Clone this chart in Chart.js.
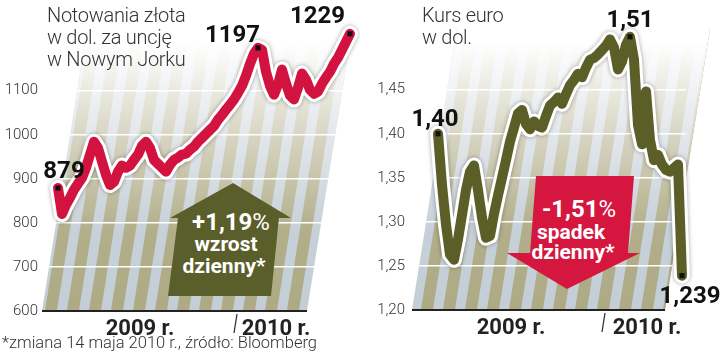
<!DOCTYPE html>
<html lang="pl">
<head>
  <meta charset="UTF-8">
  <title>Złoto i kurs euro</title>
  <script src="https://cdn.jsdelivr.net/npm/chart.js"></script>
  <style>
    body {
      margin: 0;
      width: 720px;
      height: 360px;
      position: relative;
      overflow: hidden;
      background: #fff;
      font-family: 'Roboto', 'Open Sans', sans-serif;
      color: #333;
    }
    canvas { position: absolute; top: 0; }
    .title {
      position: absolute;
      top: 4px;
      font-size: 20px;
      font-weight: 300;
      line-height: 22px;
      letter-spacing: -0.3px;
      color: #333;
      z-index: 2;
    }
    .note {
      position: absolute;
      left: 2px;
      top: 335px;
      font-size: 16.5px;
      font-weight: 300;
      line-height: 16px;
      color: #333;
    }
    .arrow {
      position: absolute;
      z-index: 2;
      color: #fff;
      font-weight: 700;
    }
    .arrow div {
      position: absolute;
      width: 110px;
      text-align: center;
      white-space: nowrap;
    }
    .arrow .big { font-size: 24px; line-height: 24px; }
    .arrow .big span { font-weight: 400; }
    .arrow .small { font-size: 21px; line-height: 21px; }
  </style>
</head>
<body>
  <canvas id="goldChart" width="360" height="340" style="left:0"></canvas>
  <canvas id="euroChart" width="360" height="340" style="left:360px"></canvas>

  <div class="title" style="left:47px">Notowania złota<br>w dol. za uncję<br>w Nowym Jorku</div>
  <div class="title" style="left:422px">Kurs euro<br>w dol.</div>

  <div class="arrow" style="left:165px;top:180px;width:130px;height:118px;background:#5a5e2b;
       clip-path:polygon(68px 3px,126px 38px,114px 38px,106px 116px,3px 116px,13px 38px,5px 38px)">
    <div class="big" style="left:11px;top:30px">+1,19<span>%</span></div>
    <div class="small" style="left:6px;top:54px">wzrost</div>
    <div class="small" style="left:4px;top:76px">dzienny*</div>
  </div>

  <div class="arrow" style="left:500px;top:172px;width:145px;height:122px;background:#d5173f;
       clip-path:polygon(36px 4px,134px 4px,128px 81px,140px 81px,67px 117px,7px 81px,30px 81px)">
    <div class="big" style="left:24px;top:25px">-1,51<span>%</span></div>
    <div class="small" style="left:16px;top:50px">spadek</div>
    <div class="small" style="left:18px;top:70px">dzienny*</div>
  </div>

  <div class="note">*zmiana 14 maja 2010 r., źródło: Bloomberg</div>

  <script>
    // notowania złota (USD/uncja), kolejne notowania
    const goldValues = [
      879, 820, 841, 857, 875, 889, 902, 925, 955, 984,
      970, 939, 909, 886, 893, 916, 930, 925, 930, 943,
      955, 975, 984, 970, 943, 934, 925, 916, 932, 943,
      948, 955, 957, 966, 973, 984, 993, 1002, 1011, 1020,
      1034, 1045, 1057, 1068, 1080, 1095, 1111, 1134, 1161, 1184,
      1197, 1193, 1143, 1111, 1091, 1114, 1148, 1116, 1089, 1080,
      1107, 1139, 1125, 1102, 1093, 1098, 1116, 1130, 1143, 1161,
      1175, 1193, 1211, 1229
    ];
    // kurs EUR/USD
    const euroValues = [
      1.400, 1.342, 1.297, 1.263, 1.257, 1.280, 1.308, 1.336, 1.357, 1.364,
      1.336, 1.305, 1.282, 1.284, 1.309, 1.330, 1.350, 1.370, 1.391, 1.407,
      1.423, 1.427, 1.411, 1.405, 1.414, 1.409, 1.407, 1.420, 1.432, 1.436,
      1.441, 1.434, 1.445, 1.455, 1.461, 1.468, 1.464, 1.475, 1.484, 1.486,
      1.490, 1.495, 1.500, 1.507, 1.498, 1.473, 1.482, 1.501, 1.510, 1.484,
      1.410, 1.388, 1.448, 1.393, 1.370, 1.376, 1.365, 1.359, 1.357, 1.361,
      1.365, 1.239
    ];

    const goldMarkIdx = [0, 50, 73];
    const goldMarkVal = [879, 1197, 1229];
    const goldMarkText = ['879', '1197', '1229'];
    const euroMarkIdx = [0, 48, 61];
    const euroMarkVal = [1.40, 1.51, 1.239];
    const euroMarkText = ['1,40', '1,51', '1,239'];

    const yearLabels = ['2009 r.', '2010 r.'];
    const goldYearPos = [20.5, 54.5];
    const euroYearPos = [18.25, 52.25];
    const goldYearBreak = 44.25;
    const euroYearBreak = 41.25;

    const goldTickMax = 1100;
    const euroTickMax = 1.45;

    Chart.defaults.font.family = 'Roboto';

    // pasiaste tło w kształcie równoległoboku + oś pozioma
    const backdrop = {
      id: 'backdrop',
      beforeDraw(chart, args, o) {
        const { ctx, chartArea: a } = chart;
        const L = a.left, B = a.bottom, T = a.top, H = B - T, W = o.width, s = 0.16;
        ctx.save();
        ctx.beginPath();
        ctx.moveTo(L, B);
        ctx.lineTo(L + W, B);
        ctx.lineTo(L + W + s * H, T);
        ctx.lineTo(L + s * H, T);
        ctx.closePath();
        ctx.clip();
        ctx.fillStyle = '#c4ced6';
        ctx.fillRect(L, T, W + s * H, H);
        ctx.fillStyle = '#aeaa84';
        for (let x = L - s * H - 22 + o.phase; x < L + W + s * H; x += 22) {
          ctx.beginPath();
          ctx.moveTo(x, B);
          ctx.lineTo(x + 12, B);
          ctx.lineTo(x + 12 + s * H, T);
          ctx.lineTo(x + s * H, T);
          ctx.fill();
        }
        const g = ctx.createLinearGradient(0, B, 0, T);
        g.addColorStop(0, 'rgba(255,255,255,0)');
        g.addColorStop(0.28, 'rgba(255,255,255,0.05)');
        g.addColorStop(0.65, 'rgba(255,255,255,0.55)');
        g.addColorStop(0.95, 'rgba(255,255,255,1)');
        ctx.fillStyle = g;
        ctx.fillRect(L, T, W + s * H, H);
        ctx.restore();

        ctx.save();
        ctx.strokeStyle = '#222';
        ctx.lineWidth = 2;
        ctx.beginPath();
        ctx.moveTo(L, B);
        ctx.lineTo(L + W, B);
        ctx.stroke();
        ctx.restore();
      },
      afterDraw(chart, args, o) {
        const { ctx, chartArea: a } = chart;
        const x = chart.scales.x.getPixelForValue(o.yearBreak);
        ctx.save();
        ctx.strokeStyle = '#333';
        ctx.lineWidth = 1.3;
        ctx.beginPath();
        ctx.moveTo(x + 2, a.bottom + 3);
        ctx.lineTo(x - 1, a.bottom + 22);
        ctx.stroke();
        ctx.restore();
      }
    };

    // cień pod białą obwódką linii
    const halo = {
      id: 'halo',
      beforeDatasetDraw(chart, args) {
        if (args.meta.label !== 'halo') return;
        const ctx = chart.ctx;
        ctx.save();
        ctx.shadowColor = 'rgba(0,0,0,0.35)';
        ctx.shadowBlur = 4;
      },
      afterDatasetDraw(chart, args) {
        if (args.meta.label !== 'halo') return;
        chart.ctx.restore();
      }
    };

    // podpisy wartości przy znacznikach
    const markLabels = {
      id: 'markLabels',
      afterDatasetsDraw(chart, args, o) {
        const { ctx } = chart;
        const pts = chart.getDatasetMeta(0).data;
        ctx.save();
        ctx.fillStyle = '#111';
        ctx.font = 'bold 24px Roboto';
        ctx.textBaseline = 'alphabetic';
        o.texts.forEach((t, k) => {
          const p = pts[k];
          const off = o.offsets[k];
          ctx.textAlign = off[2];
          ctx.fillText(t, p.x + off[0], p.y + off[1]);
        });
        ctx.restore();
      }
    };

    function makeChart(id, cfg) {
      const lineData = cfg.values.map((v, i) => ({ x: i, y: v }));
      const markData = cfg.markIdx.map((i, k) => ({ x: i, y: cfg.markVal[k] }));
      return new Chart(document.getElementById(id), {
        type: 'line',
        data: {
          datasets: [
            { label: 'marks', data: markData, showLine: false, pointStyle: 'rect',
              pointRadius: 3.6, backgroundColor: '#111', borderWidth: 0, clip: false },
            { label: 'line', data: lineData, borderColor: cfg.color, borderWidth: 10,
              pointRadius: 0, clip: false },
            { label: 'halo', data: lineData, borderColor: '#fff', borderWidth: 16,
              pointRadius: 0, clip: false }
          ]
        },
        options: {
          responsive: false,
          animation: false,
          layout: { padding: cfg.padding },
          elements: { line: { tension: 0, borderJoinStyle: 'round', borderCapStyle: 'round' } },
          plugins: {
            legend: { display: false },
            tooltip: { enabled: false },
            backdrop: { width: cfg.shadeWidth, phase: cfg.phase, yearBreak: cfg.yearBreak },
            markLabels: { texts: cfg.markText, offsets: cfg.markOffsets }
          },
          scales: {
            x: {
              type: 'linear',
              min: cfg.xMin,
              max: cfg.xMax,
              grid: { display: false },
              border: { display: false },
              ticks: {
                autoSkip: false,
                maxRotation: 0,
                padding: -3,
                color: '#222',
                font: { size: 22, weight: 'bold' },
                callback: (v, i) => yearLabels[i]
              },
              afterBuildTicks: s => { s.ticks = cfg.yearPos.map(v => ({ value: v })); },
              afterFit: s => { s.height = cfg.xHeight; }
            },
            y: {
              min: cfg.yMin,
              max: cfg.yMax,
              border: { display: false },
              grid: {
                drawTicks: false,
                lineWidth: 1.5,
                color: c => (c.tick && c.tick.value === cfg.yMin ? 'rgba(0,0,0,0)' : '#fff')
              },
              ticks: {
                stepSize: cfg.step,
                padding: cfg.tickPad,
                color: '#333',
                font: { size: 15, weight: '300' },
                callback: cfg.fmt
              },
              afterBuildTicks: s => { s.ticks = s.ticks.filter(t => t.value <= cfg.tickMax + 1e-9); },
              afterFit: s => { s.width = cfg.yWidth; }
            }
          }
        },
        plugins: [backdrop, halo, markLabels]
      });
    }

    makeChart('goldChart', {
      values: goldValues,
      markIdx: goldMarkIdx, markVal: goldMarkVal, markText: goldMarkText,
      markOffsets: [[6, -10, 'center'], [2, -6, 'right'], [-5, -11, 'right']],
      color: '#d3133f',
      padding: { top: 29, right: 6, left: 0, bottom: 0 },
      xMin: -4, xMax: 74, xHeight: 29,
      yearPos: goldYearPos, yearBreak: goldYearBreak,
      yMin: 600, yMax: 1240, step: 100, tickMax: goldTickMax,
      yWidth: 42, tickPad: 4,
      fmt: v => String(v),
      shadeWidth: 265, phase: 4
    });

    makeChart('euroChart', {
      values: euroValues,
      markIdx: euroMarkIdx, markVal: euroMarkVal, markText: euroMarkText,
      markOffsets: [[-3, -8, 'center'], [0, -10, 'center'], [8, 27, 'center']],
      color: '#5b5f27',
      padding: { top: 28, right: 34, left: 0, bottom: 0 },
      xMin: -6.5, xMax: 62, xHeight: 30,
      yearPos: euroYearPos, yearBreak: euroYearBreak,
      yMin: 1.20, yMax: 1.52, step: 0.05, tickMax: euroTickMax,
      yWidth: 52, tickPad: 7,
      fmt: v => v.toFixed(2).replace('.', ','),
      shadeWidth: 253, phase: 10
    });
  </script>
</body>
</html>
